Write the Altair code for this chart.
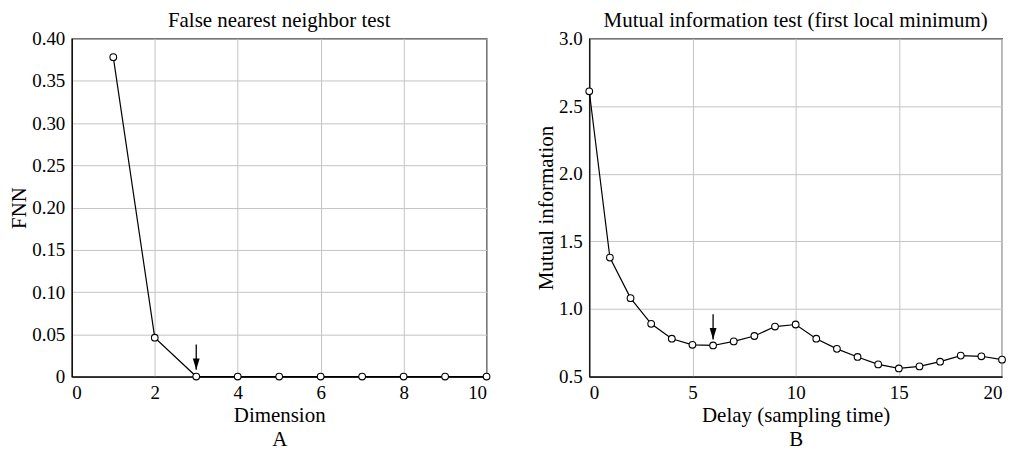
import altair as alt
import pandas as pd

# Panel A: false nearest neighbor test
dim = [1, 2, 3, 4, 5, 6, 7, 8, 9, 10]
fnn = [0.378, 0.046, 0.0, 0.0, 0.0, 0.0, 0.0, 0.0, 0.0, 0.0]

# Panel B: mutual information test
delay = list(range(0, 21))
mi = [2.61, 1.38, 1.08, 0.89, 0.78, 0.735, 0.73, 0.76, 0.80, 0.87, 0.885,
      0.78, 0.705, 0.645, 0.59, 0.56, 0.575, 0.61, 0.655, 0.65, 0.625]

# Arrows marking the chosen values
arrowA_x = [3]
arrowA_top = [0.038]
arrowA_tip = [0.008]
arrowB_x = [6]
arrowB_top = [0.96]
arrowB_tip = [0.775]

FONT = "'Liberation Serif', 'Times New Roman', 'DejaVu Serif', serif"
GRID = "#c4c4c4"
HEAD = "M-0.6,-2 L0.6,-2 L0,0 Z"

dfA = pd.DataFrame({"x": dim, "y": fnn})
dfB = pd.DataFrame({"x": delay, "y": mi})
arA = pd.DataFrame({"x": arrowA_x, "y": arrowA_top, "y2": arrowA_tip})
arB = pd.DataFrame({"x": arrowB_x, "y": arrowB_top, "y2": arrowB_tip})


def panel(df, ar, xdom, xticks, ydom, yticks, xtitle, ytitle, ylabelexpr, title, w):
    xs = alt.Scale(domain=xdom, nice=False, zero=False)
    ys = alt.Scale(domain=ydom, nice=False, zero=False)
    xax = alt.Axis(values=xticks, title=xtitle, format="d", grid=True)
    yax = alt.Axis(values=yticks, title=ytitle, labelExpr=ylabelexpr, grid=True)
    base = alt.Chart(df)
    line = base.mark_line(color="black", strokeWidth=1.2).encode(
        x=alt.X("x:Q", scale=xs, axis=xax),
        y=alt.Y("y:Q", scale=ys, axis=yax),
    )
    pts = base.mark_point(shape="circle", size=45, filled=True, fill="white",
                          stroke="black", strokeWidth=1.1, opacity=1).encode(
        x=alt.X("x:Q", scale=xs), y=alt.Y("y:Q", scale=ys))
    stem = alt.Chart(ar).mark_rule(color="black", strokeWidth=1.3).encode(
        x=alt.X("x:Q", scale=xs), y=alt.Y("y:Q", scale=ys), y2="y2:Q")
    head = alt.Chart(ar).mark_point(shape=HEAD, size=130, filled=True,
                                    color="black", opacity=1).encode(
        x=alt.X("x:Q", scale=xs), y=alt.Y("y2:Q", scale=ys))
    return alt.layer(line, pts, stem, head).properties(
        width=w, height=339,
        title=alt.TitleParams(title, font=FONT, fontSize=21, fontWeight="normal",
                              color="black", offset=-1, frame="group"))


left = panel(dfA, arA, [0, 10], [0, 2, 4, 6, 8, 10], [0, 0.4],
             [0, 0.05, 0.1, 0.15, 0.2, 0.25, 0.3, 0.35, 0.4],
             ["Dimension", "A"], "FNN",
             "datum.value == 0 ? '0' : format(datum.value, '.2f')",
             "False nearest neighbor test", 416)
right = panel(dfB, arB, [0, 20], [0, 5, 10, 15, 20], [0.5, 3.0],
              [0.5, 1.0, 1.5, 2.0, 2.5, 3.0],
              ["Delay (sampling time)", "B"], "Mutual information",
              "format(datum.value, '.1f')",
              "Mutual information test (first local minimum)", 414)

chart = alt.hconcat(left, right, spacing=41).properties(
    padding={"left": 0, "top": 0, "right": 0, "bottom": 0}
).configure_view(stroke="black", strokeWidth=1.2).configure_axis(
    labelFont=FONT, titleFont=FONT, labelFontSize=19, titleFontSize=21,
    labelColor="black", titleColor="black", titleFontWeight="normal",
    ticks=False, labelPadding=7, domainColor="black", domainWidth=1.2,
    gridColor=GRID, gridWidth=1, titleLineHeight=24,
).configure_axisX(titlePadding=2).configure_axisY(titlePadding=2)

chart.save("out.html", embed_options={"renderer": "svg", "actions": False})
